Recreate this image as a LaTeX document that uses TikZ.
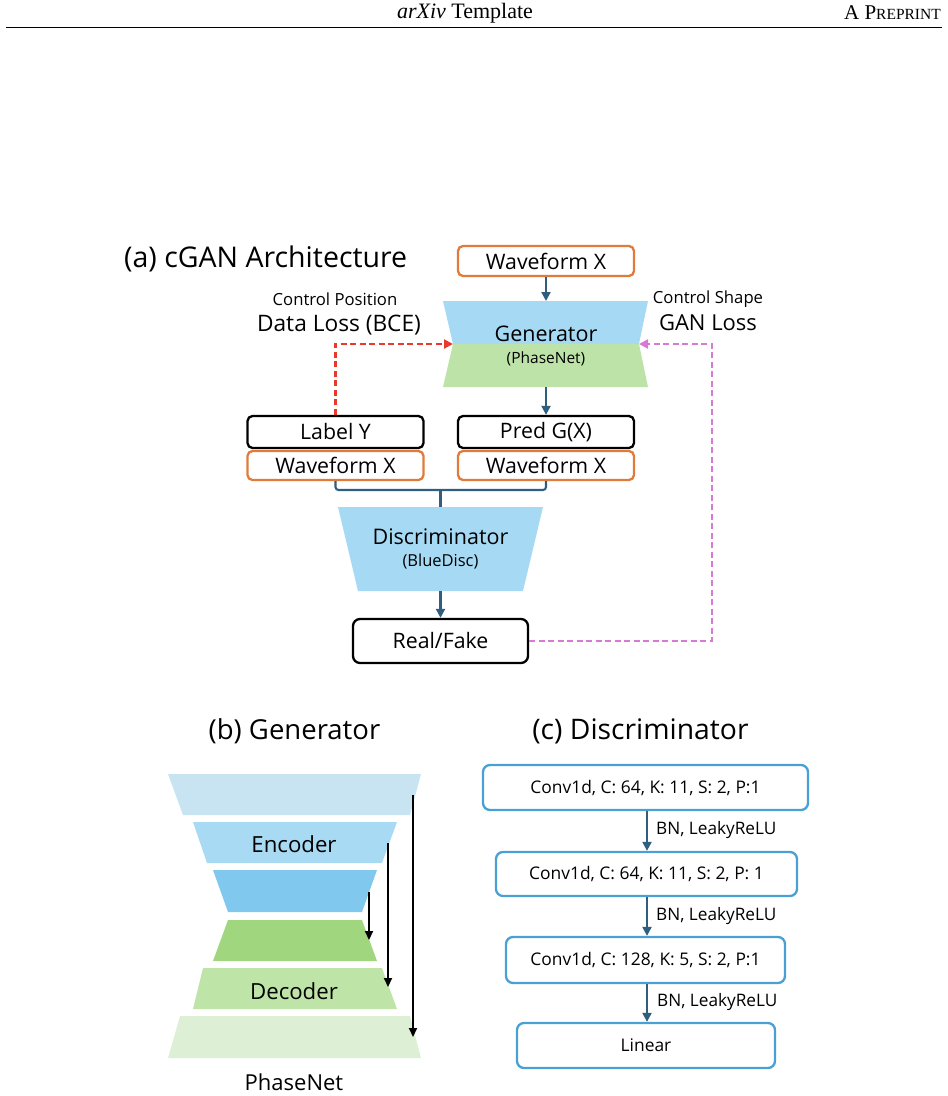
\documentclass[tikz,border=0pt]{standalone}
\usepackage{fontspec}
\setmainfont{Open Sans}
\newfontfamily\hdrfont{Liberation Serif}
\usetikzlibrary{arrows.meta}
\definecolor{arrowblue}{HTML}{2F5F80}
\definecolor{orangeb}{HTML}{E07B3C}
\definecolor{genblue}{HTML}{A6DAF4}
\definecolor{gengreen}{HTML}{BEE3A8}
\definecolor{redd}{HTML}{E8392A}
\definecolor{magd}{HTML}{D77AD6}
\definecolor{convb}{HTML}{4AA0D5}
\definecolor{gA}{HTML}{C8E4F2}
\definecolor{gB}{HTML}{A8DAF3}
\definecolor{gC}{HTML}{80C8EE}
\definecolor{gD}{HTML}{A0D77E}
\definecolor{gE}{HTML}{BFE4A8}
\definecolor{gF}{HTML}{DDF0D5}
\newcommand{\fsz}[1]{\fontsize{#1}{#1}\selectfont}
\tikzset{
  box/.style={draw, rounded corners=5pt, line width=2.3pt, minimum width=176pt, inner sep=0pt, font=\fsz{21.3}, fill=white},
  obox/.style={box, draw=orangeb},
  kbox/.style={box, draw=black},
  arr/.style={draw=arrowblue, line width=2.1pt, -{Triangle[length=9pt,width=9pt]}},
  karr/.style={draw=black, line width=2.1pt, -{Triangle[length=9pt,width=8pt]}},
  conv/.style={draw=convb, line width=2.3pt, rounded corners=7pt, inner sep=0pt, font=\fsz{17.4}},
  dashline/.style={line width=2.1pt, dash pattern=on 6pt off 3.5pt, -{Triangle[length=9pt,width=9pt]}},
  lbl/.style={inner sep=0pt},
}
\begin{document}
\begin{tikzpicture}[x=1pt,y=-1pt]
\useasboundingbox (0,0) rectangle (948,1096);
% header
\node[lbl, font=\hdrfont\fsz{22}] (hdr) at (465,13) {\textit{arXiv} Template};
\node[lbl, font=\hdrfont\fsz{21}, anchor=east] (pre) at (941,13) {A P{\fsz{15.5}REPRINT}};
\draw[line width=1pt] (6,27) -- (942,27);

% (a)
\node[lbl, font=\fsz{28.5}, anchor=west] (ta) at (124,259) {(a) cGAN Architecture};
\node[obox, minimum height=30pt] (wfTop) at (546,261) {Waveform X};
\fill[genblue] (443,301) -- (648,301) -- (639,344) -- (453,344) -- cycle;
\fill[gengreen] (453,344) -- (639,344) -- (648,387) -- (443,387) -- cycle;
\coordinate (genTop) at (546,301);
\coordinate (genBot) at (546,387);
\coordinate (genL) at (453,344);
\coordinate (genR) at (639,344);
\node[lbl, font=\fsz{21.5}] (gentxt) at (546,334) {Generator};
\node[lbl, font=\fsz{15.5}] (genph) at (546,359) {(PhaseNet)};
\draw[arr] (wfTop.south) -- (genTop);

\node[lbl, font=\fsz{16.7}] (cp) at (335,299) {Control Position};
\node[lbl, font=\fsz{22.7}] (dl) at (339,325) {Data Loss (BCE)};
\node[lbl, font=\fsz{16.7}] (cs) at (708,299) {Control Shape};
\node[lbl, font=\fsz{22}] (gl) at (708,323) {GAN Loss};

\node[kbox, minimum height=32pt] (labelY) at (335.5,432) {Label Y};
\node[obox, minimum height=29pt] (wfL) at (335.5,465.5) {Waveform X};
\node[kbox, minimum height=32pt] (predG) at (546,432) {Pred G(X)};
\node[obox, minimum height=29pt] (wfR) at (546,465.5) {Waveform X};
\draw[arr] (genBot) -- (predG.north);

\coordinate (brk) at (440.5,490);
\draw[arrowblue, line width=2.1pt, rounded corners=3pt] (wfL.south) |- (brk) -| (wfR.south);
\fill[genblue] (338,507) -- (543,507) -- (523,591) -- (358,591) -- cycle;
\coordinate (discTop) at (440.5,507);
\coordinate (discBot) at (440.5,591);
\draw[arrowblue, line width=2.1pt] (brk) -- (discTop);
\node[lbl, font=\fsz{21.5}] (disctxt) at (440.5,537) {Discriminator};
\node[lbl, font=\fsz{16.5}] (discbd) at (440.5,562) {(BlueDisc)};
\node[kbox, minimum width=175pt, minimum height=44pt, rounded corners=7pt] (rf) at (440.5,641) {Real/Fake};
\draw[arr] (discBot) -- (rf.north);

\draw[dashline, redd] (labelY.north) |- (genL);
\coordinate (mc) at (712,641);
\draw[dashline, magd] (rf.east) -- (mc) |- (genR);

% (b)
\node[lbl, font=\fsz{27.5}] (tb) at (294.5,731) {(b) Generator};
\fill[gA] (168,774) -- (421,774) -- (410,815) -- (183,815) -- cycle;
\fill[gB] (193,822) -- (397,822) -- (382,863) -- (207,863) -- cycle;
\fill[gC] (213,870) -- (377,870) -- (362,912) -- (228,912) -- cycle;
\fill[gD] (228,920) -- (362,920) -- (377,961) -- (213,961) -- cycle;
\fill[gE] (203,968) -- (382,968) -- (397,1009) -- (193,1009) -- cycle;
\fill[gF] (180,1016) -- (410,1016) -- (421,1058) -- (168,1058) -- cycle;
\node[lbl, font=\fsz{22.2}] (enc) at (294,844) {Encoder};
\node[lbl, font=\fsz{22.2}] (dec) at (294,991) {Decoder};
\node[lbl, font=\fsz{22}] (pn) at (294,1082) {PhaseNet};
\coordinate (s1a) at (413,795); \coordinate (s1b) at (413,1037);
\coordinate (s2a) at (388,843); \coordinate (s2b) at (388,987);
\coordinate (s3a) at (369,892); \coordinate (s3b) at (369,940);
\draw[karr] (s1a) -- (s1b);
\draw[karr] (s2a) -- (s2b);
\draw[karr] (s3a) -- (s3b);

% (c)
\node[lbl, font=\fsz{28.3}] (tc) at (640.5,731) {(c) Discriminator};
\node[conv, minimum width=325pt, minimum height=45pt] (c1) at (645.5,787.5) {Conv1d, C: 64, K: 11, S: 2, P:1};
\node[conv, minimum width=301pt, minimum height=44pt] (c2) at (646.5,874) {Conv1d, C: 64, K: 11, S: 2, P: 1};
\node[conv, minimum width=279pt, minimum height=46pt] (c3) at (645.5,960) {Conv1d, C: 128, K: 5, S: 2, P:1};
\node[conv, minimum width=258pt, minimum height=45pt] (c4) at (646,1045.5) {Linear};
\coordinate (c1s) at (647,810); \coordinate (c2n) at (647,852);
\coordinate (c2s) at (647,896); \coordinate (c3n) at (647,937);
\coordinate (c3s) at (647,983); \coordinate (c4n) at (647,1023);
\draw[arr] (c1.south -| c1s) -- (c2.north -| c2n);
\draw[arr] (c2.south -| c2s) -- (c3.north -| c3n);
\draw[arr] (c3.south -| c3s) -- (c4.north -| c4n);
\node[lbl, font=\fsz{17.2}, anchor=west] (bn1) at (656,830) {BN, LeakyReLU};
\node[lbl, font=\fsz{17.2}, anchor=west] (bn2) at (656,916) {BN, LeakyReLU};
\node[lbl, font=\fsz{17.2}, anchor=west] (bn3) at (657,1002) {BN, LeakyReLU};
\end{tikzpicture}
\end{document}
